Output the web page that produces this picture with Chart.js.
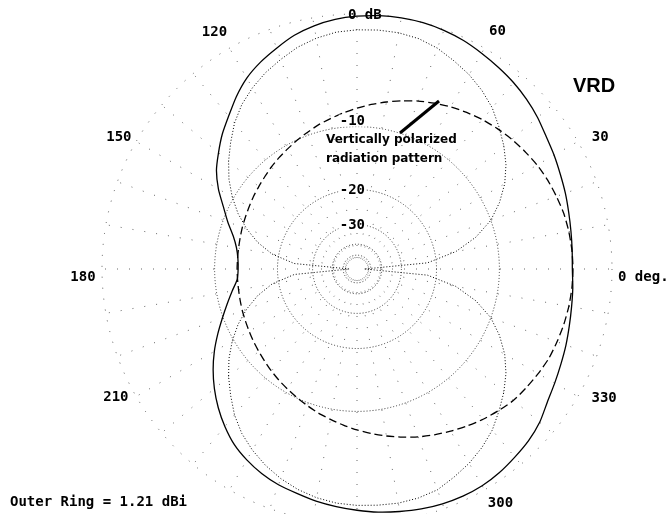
<!DOCTYPE html>
<html lang="en">
<head>
  <meta charset="UTF-8">
  <title>VRD elevation pattern</title>
  <script src="https://cdn.jsdelivr.net/npm/chart.js"></script>
  <style>
    html, body { margin: 0; padding: 0; background: #fff; overflow: hidden; }
  </style>
</head>
<body>
  <canvas id="pattern" width="669" height="530"></canvas>

  <script>
    // azimuth angles in degrees, counter-clockwise from the right (0 deg.)
    const angles = [
      0, 5, 10, 15, 20, 25, 30, 35, 40, 45, 50, 55, 60, 65, 70, 75, 80, 85,
      90, 95, 100, 105, 110, 115, 120, 125, 130, 135, 140, 145, 150, 155, 160, 165, 170, 175,
      180, 185, 190, 195, 200, 205, 210, 215, 220, 225, 230, 235, 240, 245, 250, 255, 260, 265,
      270, 275, 280, 285, 290, 295, 300, 305, 310, 315, 320, 325, 330, 335, 340, 345, 350, 355
    ];

    // total field (solid), dB relative to outer ring
    const totalDb = [
      -2.9, -2.85, -2.75, -2.6, -2.4, -2.2, -1.95, -1.7, -1.35, -1.05, -0.8, -0.6, -0.4, -0.2, -0.07, 0, 0, -0.05,
      -0.15, -0.3, -0.55, -0.9, -1.4, -1.9, -2.5, -3.3, -4.2, -5.0, -5.9, -6.8, -8.0, -9.4, -10.6, -11.8, -12.6, -13.0,
      -13.1, -12.9, -12.0, -11.0, -9.9, -8.7, -7.5, -6.4, -5.4, -4.5, -3.7, -3.0, -2.5, -2.1, -1.8, -1.6, -1.35, -1.15,
      -0.95, -0.75, -0.6, -0.45, -0.35, -0.3, -0.32, -0.45, -0.65, -0.85, -1.15, -1.6, -1.9, -2.15, -2.35, -2.55, -2.7, -2.8
    ];

    // dashed component
    const dashedDb = [
      -2.85, -2.87, -2.92, -3.0, -3.15, -3.3, -3.5, -3.75, -4.0, -4.3, -4.6, -4.95, -5.3, -5.7, -6.1, -6.55, -7.0, -7.45,
      -7.9, -8.35, -8.8, -9.2, -9.65, -10.05, -10.45, -10.8, -11.15, -11.5, -11.8, -12.05, -12.3, -12.5, -12.65, -12.8, -12.9, -12.95,
      -12.95, -12.95, -12.9, -12.8, -12.65, -12.5, -12.3, -12.05, -11.8, -11.5, -11.15, -10.8, -10.45, -10.05, -9.65, -9.2, -8.8, -8.35,
      -7.9, -7.45, -7.0, -6.55, -6.1, -5.7, -5.3, -4.9, -4.5, -4.15, -3.8, -3.6, -3.4, -3.2, -3.1, -3.0, -2.92, -2.87
    ];

    // dotted component (figure eight)
    const dottedDb = [
      -60, -22, -16, -12.5, -10, -8.3, -6.9, -5.8, -4.9, -4.1, -3.3, -2.7, -2.2, -1.8, -1.4, -1.15, -1.05, -1.05,
      -1.1, -1.2, -1.45, -1.8, -2.3, -2.8, -3.4, -4.1, -5.0, -6.1, -7.2, -8.4, -9.8, -11.4, -13.3, -15.6, -18.6, -24,
      -60, -24, -18.6, -15.6, -13.3, -11.4, -9.8, -8.4, -7.2, -6.1, -5.0, -4.1, -3.4, -2.8, -2.3, -1.9, -1.6, -1.4,
      -1.3, -1.25, -1.2, -1.25, -1.4, -1.8, -2.2, -2.7, -3.3, -4.1, -4.9, -5.8, -6.9, -8.3, -10, -12.5, -16, -22
    ];

    const ringDb = [0, -10, -20, -30, -40, -50];
    const ringLabels = ['0 dB', '-10', '-20', '-30'];
    const angleTickDeg = [0, 30, 60, 120, 150, 180, 210, 300, 330];
    const angleTickText = ['0 deg.', '30', '60', '120', '150', '180', '210', '300', '330'];
    const outerRingDbi = 1.21;

    // ARRL log scale: radius shrinks by 0.89 for every 2 dB
    const arrl = db => Math.pow(0.89, -db / 2);

    // radar goes clockwise, the plot goes counter-clockwise
    const order = angles.map((_, i) => (angles.length - i) % angles.length);
    const series = arr => order.map(k => arrl(arr[k]));

    const monoFont = 'bold 14px "DejaVu Sans Mono"';

    const overlay = {
      id: 'overlay',
      afterDraw(chart) {
        const r = chart.scales.r;
        const ctx = chart.ctx;
        const cx = r.xCenter, cy = r.yCenter;
        ctx.save();
        ctx.fillStyle = '#000';
        ctx.font = monoFont;
        ctx.textBaseline = 'middle';

        // ring labels up the 90 deg. axis (-10 sits a little above its ring)
        ringLabels.forEach((t, i) => {
          const y = cy - r.getDistanceFromCenterForValue(arrl(ringDb[i])) - (i === 1 ? 6 : 0);
          if (i === 0) {
            ctx.textAlign = 'left';
            ctx.fillText(t, cx - 9, y + 1);
          } else {
            const w = ctx.measureText(t).width;
            ctx.fillStyle = '#fff';
            ctx.fillRect(cx + 8 - w - 1, y - 6, w + 2, 12);
            ctx.fillStyle = '#000';
            ctx.textAlign = 'right';
            ctx.fillText(t, cx + 8, y + 1);
          }
        });

        // angle labels round the outside
        const nudge = {
          0: [0, 8], 30: [5, 6], 60: [3, 1], 120: [-5, 2], 150: [0, 6],
          180: [1, 8], 210: [-3, -9], 300: [6, -4], 330: [9, -8]
        };
        angleTickDeg.forEach((a, i) => {
          const rad = a * Math.PI / 180;
          const [nx, ny] = nudge[a];
          if (a === 0) {
            ctx.textAlign = 'left';
            ctx.fillText(angleTickText[i], cx + 261, cy + ny);
            return;
          }
          ctx.textAlign = 'center';
          ctx.fillText(angleTickText[i], cx + 275 * Math.cos(rad) + nx, cy - 275 * Math.sin(rad) + ny);
        });

        // caption
        ctx.textAlign = 'left';
        ctx.textBaseline = 'alphabetic';
        ctx.fillText('Outer Ring = ' + outerRingDbi.toFixed(2) + ' dBi', 10, 506);

        ctx.font = 'bold 20px "Liberation Sans"';
        ctx.fillText('VRD', 573, 92);

        ctx.font = 'bold 12px "DejaVu Sans"';
        ctx.fillText('Vertically polarized', 326, 143);
        ctx.fillText('radiation pattern', 326, 162);

        ctx.strokeStyle = '#000';
        ctx.lineWidth = 3;
        ctx.beginPath();
        ctx.moveTo(400, 133);
        ctx.lineTo(439, 101);
        ctx.stroke();
        ctx.restore();
      }
    };

    new Chart(document.getElementById('pattern'), {
      type: 'radar',
      data: {
        labels: order.map(k => angles[k]),
        datasets: [
          {
            label: 'Total',
            data: series(totalDb),
            borderColor: '#000',
            borderWidth: 1.3,
            tension: 0.2,
            fill: false,
            pointRadius: 0
          },
          {
            label: 'Dashed',
            data: series(dashedDb),
            borderColor: '#000',
            borderWidth: 1.3,
            borderDash: [8, 4],
            tension: 0.2,
            fill: false,
            pointRadius: 0
          },
          {
            label: 'Dotted',
            data: series(dottedDb),
            borderColor: '#000',
            borderWidth: 1,
            borderDash: [1, 2],
            tension: 0,
            fill: false,
            pointRadius: 0
          }
        ]
      },
      options: {
        responsive: false,
        animation: false,
        layout: { padding: { left: 102, right: 57, top: 14, bottom: 6 } },
        plugins: { legend: { display: false }, tooltip: { enabled: false } },
        scales: {
          r: {
            min: 0,
            max: 1,
            startAngle: 90,
            afterBuildTicks: scale => {
              scale.ticks = [0].concat(ringDb.slice().reverse().map(db => arrl(db))).map(v => ({ value: v }));
            },
            ticks: { display: false },
            pointLabels: { display: false },
            grid: {
              circular: true,
              color: ctx => ctx.index === ringDb.length ? '#555' : '#333',
              lineWidth: 1
            },
            border: {
              dash: ctx => ctx.index === ringDb.length ? [1, 10] : [1, 2]
            },
            angleLines: {
              display: true,
              color: '#666',
              lineWidth: ctx => ctx.index % 2 === 0 ? 1 : 0,
              borderDash: [1, 11],
              borderDashOffset: 1
            }
          }
        }
      },
      plugins: [overlay]
    });
  </script>
</body>
</html>
